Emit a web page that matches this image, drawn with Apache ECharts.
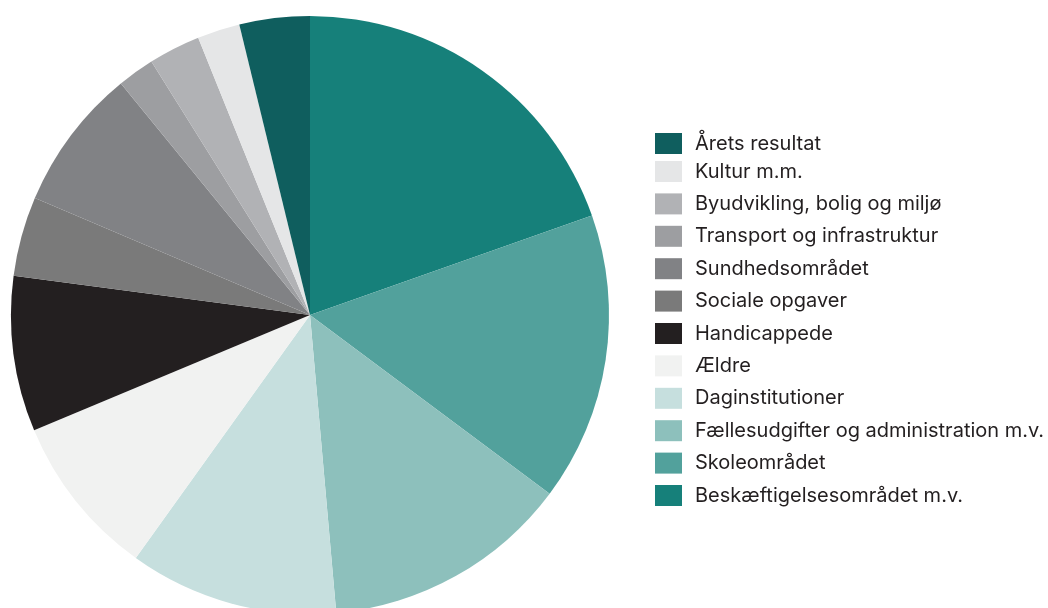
<!DOCTYPE html>
<html>
<head>
<meta charset="utf-8">
<script src="https://cdn.jsdelivr.net/npm/echarts@6/dist/echarts.min.js"></script>
<style>html,body{margin:0;padding:0;background:#fff}#c{width:1048px;height:608px}</style>
</head>
<body>
<div id="c"></div>
<script>
const categories = [
  "Beskæftigelsesområdet m.v.",
  "Skoleområdet",
  "Fællesudgifter og administration m.v.",
  "Daginstitutioner",
  "Ældre",
  "Handicappede",
  "Sociale opgaver",
  "Sundhedsområdet",
  "Transport og infrastruktur",
  "Byudvikling, bolig og miljø",
  "Kultur m.m.",
  "Årets resultat"
];
const values = [19.6, 15.6, 13.4, 11.3, 8.8, 8.4, 4.3, 7.7, 2.0, 2.8, 2.3, 3.8];
const colors = ["#16807a", "#52a19c", "#8dc0bc", "#c6dfde", "#f1f2f1", "#231f20", "#7a7a7a", "#818285", "#9d9ea1", "#b1b2b5", "#e5e6e7", "#0f5e5e"];

const legendOrder = categories.slice().reverse();
const legendText = {
  fontFamily: 'Inter',
  fontSize: 20,
  lineHeight: 21,
  color: '#231f20',
  padding: [19, 0, 0, 8]
};
const legendBase = {
  orient: 'vertical',
  left: 650,
  itemWidth: 27,
  itemHeight: 21,
  itemGap: -7.6,
  icon: 'rect',
  selectedMode: false,
  textStyle: legendText
};

const chart = echarts.init(document.getElementById('c'));
chart.setOption({
  animation: false,
  legend: [
    Object.assign({}, legendBase, { top: 118.5, data: legendOrder.slice(0, 1) }),
    Object.assign({}, legendBase, { top: 146.5, data: legendOrder.slice(1) })
  ],
  series: [{
    type: 'pie',
    center: [310, 315],
    radius: [0, 299],
    startAngle: 90,
    clockwise: true,
    label: { show: false },
    labelLine: { show: false },
    emphasis: { disabled: true },
    data: categories.map((n, i) => ({ name: n, value: values[i], itemStyle: { color: colors[i] } }))
  }]
});
</script>
</body>
</html>
